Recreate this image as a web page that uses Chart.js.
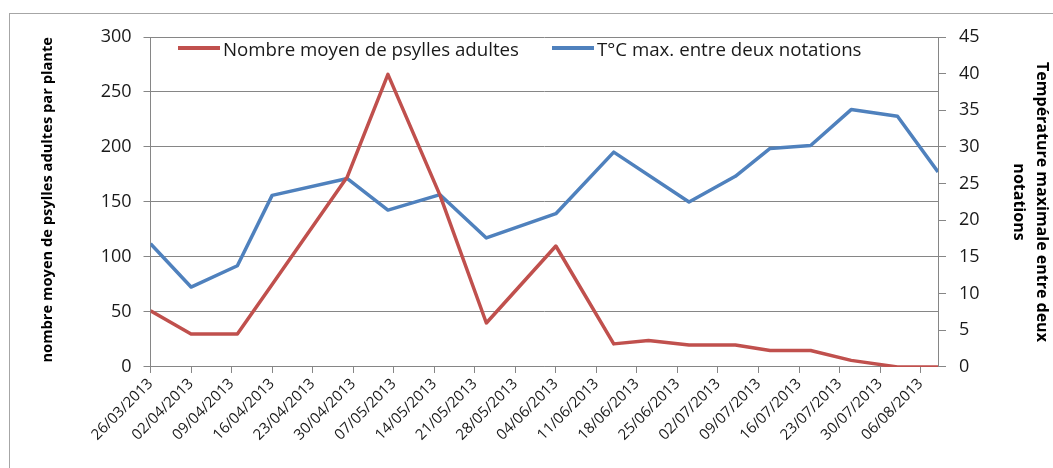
<!DOCTYPE html>
<html>
<head>
<meta charset="utf-8">
<script src="https://cdn.jsdelivr.net/npm/chart.js@4.4.1/dist/chart.umd.min.js"></script>
<style>
  body { margin: 0; background: #fff; }
  #wrap { position: relative; width: 1053px; height: 468px; overflow: hidden; }
  #cadre { position: absolute; left: 9px; top: 13px; right: -2px; bottom: -2px; border-left: 1px solid #a6a6a6; border-top: 1px solid #a6a6a6; }
  canvas { position: absolute; left: 0; top: 0; }
  #legende { position: absolute; left: 178px; top: 37px; height: 22px; display: flex; align-items: center;
             font-family: 'Open Sans', sans-serif; font-size: 18.7px; color: #1a1a1a; white-space: nowrap; }
  #legende .item { display: flex; align-items: center; margin-right: 33px; }
  #legende .trait { display: inline-block; width: 42px; height: 4px; margin-right: 3px; }
</style>
</head>
<body>
<div id="wrap">
  <div id="cadre"></div>
  <canvas id="graphique" width="1053" height="468"></canvas>
  <div id="legende"></div>
</div>
<script>
// dates des notations
const dates = ['26/03/2013', '02/04/2013', '10/04/2013', '16/04/2013', '29/04/2013', '06/05/2013',
    '15/05/2013', '23/05/2013', '04/06/2013', '14/06/2013', '20/06/2013', '27/06/2013',
    '05/07/2013', '11/07/2013', '18/07/2013', '25/07/2013', '02/08/2013', '09/08/2013'];
// nombre moyen de psylles adultes par plante
const psylles = [51, 30, 30, 75, 173, 266, 156, 40, 110, 21, 24, 20, 20, 15, 15, 6, 0, 0];
// T°C max. entre deux notations (pas de valeur le 20/06)
const tmax = [16.8, 10.9, 13.8, 23.4, 25.7, 21.4, 23.5, 17.6, 20.9, 29.3, null, 22.5,
    26.0, 29.8, 30.2, 35.1, 34.2, 26.6];
// graduations de l'axe des dates
const tickLabels = ['26/03/2013', '02/04/2013', '09/04/2013', '16/04/2013', '23/04/2013', '30/04/2013',
    '07/05/2013', '14/05/2013', '21/05/2013', '28/05/2013', '04/06/2013', '11/06/2013',
    '18/06/2013', '25/06/2013', '02/07/2013', '09/07/2013', '16/07/2013', '23/07/2013',
    '30/07/2013', '06/08/2013'];

const debut = Date.UTC(2013, 2, 26);
function jour(s) {
    const [d, m, y] = s.split('/').map(Number);
    return Math.round((Date.UTC(y, m - 1, d) - debut) / 86400000);
}

const police = "'Open Sans', sans-serif";
const gris = '#868686';

const ctx = document.getElementById('graphique').getContext('2d');
const graphique = new Chart(ctx, {
    type: 'line',
    data: {
        datasets: [
            {
                label: 'Nombre moyen de psylles adultes',
                data: dates.map((d, i) => ({ x: jour(d), y: psylles[i] })),
                borderColor: '#C0504D',
                borderWidth: 3.5,
                pointRadius: 0,
                borderJoinStyle: 'round',
                yAxisID: 'y'
            },
            {
                label: 'T°C max. entre deux notations',
                data: dates.map((d, i) => ({ x: jour(d), y: tmax[i] })),
                borderColor: '#4F81BD',
                borderWidth: 3.5,
                pointRadius: 0,
                borderJoinStyle: 'round',
                spanGaps: true,
                yAxisID: 'y1'
            }
        ]
    },
    options: {
        responsive: false,
        animation: false,
        layout: {
            padding: { top: 37, bottom: 22, left: 0, right: 0 }
        },
        scales: {
            x: {
                type: 'linear',
                min: 0,
                max: jour(dates[dates.length - 1]),
                afterBuildTicks: (axis) => {
                    axis.ticks = tickLabels.map(t => ({ value: jour(t) }));
                },
                ticks: {
                    autoSkip: false,
                    minRotation: 45,
                    maxRotation: 45,
                    padding: 2,
                    color: '#1a1a1a',
                    font: { family: police, size: 15 },
                    callback: (v, i) => tickLabels[i]
                },
                grid: { drawOnChartArea: false, color: gris, tickLength: 6 },
                border: { color: gris }
            },
            y: {
                position: 'left',
                min: 0,
                max: 300,
                ticks: {
                    stepSize: 50,
                    padding: 12,
                    color: '#1a1a1a',
                    font: { family: police, size: 18 }
                },
                grid: { color: gris, tickLength: 7 },
                border: { color: gris },
                title: {
                    display: true,
                    align: 'end',
                    text: 'nombre moyen de psylles adultes par plante',
                    color: '#000',
                    font: { family: police, size: 14.7, weight: 'bold' },
                    padding: { top: 39, bottom: 32 }
                }
            },
            y1: {
                position: 'right',
                min: 0,
                max: 45,
                ticks: {
                    stepSize: 5,
                    padding: 13,
                    color: '#1a1a1a',
                    font: { family: police, size: 18 }
                },
                grid: { drawOnChartArea: false, color: gris, tickLength: 8 },
                border: { color: gris },
                title: {
                    display: true,
                    text: ['Température maximale entre deux', 'notations'],
                    color: '#000',
                    font: { family: police, size: 16, weight: 'bold', lineHeight: 1.45 },
                    padding: { top: 0, bottom: 14 }
                }
            }
        },
        plugins: {
            legend: { display: false },
            tooltip: { enabled: false }
        }
    }
});

// légende HTML placée dans le haut de la zone de tracé
const legende = document.getElementById('legende');
graphique.data.datasets.forEach(ds => {
    const item = document.createElement('span');
    item.className = 'item';
    const trait = document.createElement('span');
    trait.className = 'trait';
    trait.style.background = ds.borderColor;
    item.appendChild(trait);
    item.appendChild(document.createTextNode(ds.label));
    legende.appendChild(item);
});
</script>
</body>
</html>
